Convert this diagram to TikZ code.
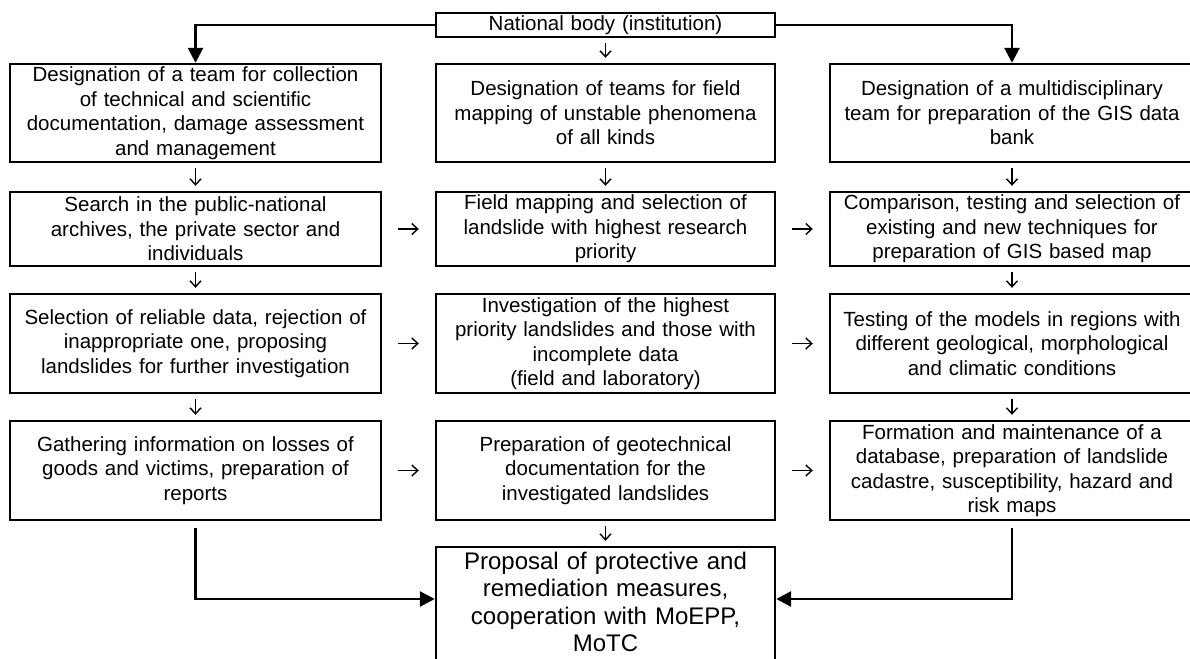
\documentclass[tikz,border=0pt]{standalone}
\usepackage{fontspec}
\setmainfont{Liberation Sans}
\usetikzlibrary{arrows.meta}
\tikzset{ stage/.style = {rectangle, draw, line width=2.4pt, inner sep=0pt, align=center, font=\fontsize{20.5}{24.5}\selectfont} }
\tikzset{ lcol/.style = {minimum width=371pt, text width=361pt} }
\tikzset{ mcol/.style = {minimum width=339pt, text width=329pt} }
\tikzset{ rcol/.style = {minimum width=364pt, text width=354pt} }
\tikzset{ small/.style = {-{Straight Barb[length=6pt,width=11pt]}, line width=1.4pt, shorten >=5pt, shorten <=5pt} }
\tikzset{ big/.style = {-{Triangle[length=15pt,width=15pt]}, line width=2.8pt} }

\begin{document}
\begin{tikzpicture}[x=1pt,y=-1pt]
            \useasboundingbox (0,0) rectangle (1190,658);
            % top
            \node [stage, mcol, minimum height=24pt] (nb) at (605.5,25) {National body (institution)};
            % row 1
            \node [stage, lcol, minimum height=98pt] (L1) at (195.5,113) {Designation of a team for collection\\of technical and scientific\\documentation, damage assessment\\and management};
            \node [stage, mcol, minimum height=98pt] (M1) at (605.5,113) {Designation of teams for field\\mapping of unstable phenomena\\of all kinds};
            \node [stage, rcol, minimum height=98pt] (R1) at (1012,113) {Designation of a multidisciplinary\\team for preparation of the GIS data\\bank};
            % row 2
            \node [stage, lcol, minimum height=74pt] (L2) at (195.5,229) {Search in the public-national\\archives, the private sector and\\individuals};
            \node [stage, mcol, minimum height=74pt] (M2) at (605.5,229) {Field mapping and selection of\\landslide with highest research\\priority};
            \node [stage, rcol, minimum height=74pt] (R2) at (1012,229) {Comparison, testing and selection of\\existing and new techniques for\\preparation of GIS based map};
            % row 3
            \node [stage, lcol, minimum height=99pt] (L3) at (195.5,343.5) {Selection of reliable data, rejection of\\inappropriate one, proposing\\landslides for further investigation};
            \node [stage, mcol, minimum height=99pt] (M3) at (605.5,343.5) {Investigation of the highest\\priority landslides and those with\\incomplete data\\(field and laboratory)};
            \node [stage, rcol, minimum height=99pt] (R3) at (1012,343.5) {Testing of the models in regions with\\different geological, morphological\\and climatic conditions};
            % row 4
            \node [stage, lcol, minimum height=99pt] (L4) at (195.5,470.5) {Gathering information on losses of\\goods and victims, preparation of\\reports};
            \node [stage, mcol, minimum height=99pt] (M4) at (605.5,470.5) {Preparation of geotechnical\\documentation for the\\investigated landslides};
            \node [stage, rcol, minimum height=99pt] (R4) at (1012,470.5) {Formation and maintenance of a\\database, preparation of landslide\\cadastre, susceptibility, hazard and\\risk maps};
            % final
            \node [stage, mcol, minimum height=124pt, text height=3pt, font=\fontsize{24}{27.5}\selectfont] (F) at (605.5,609) {Proposal of protective and\\remediation measures,\\cooperation with MoEPP,\\MoTC};
            \coordinate (jn) at (605.5,599);

            \draw[big] (nb.west) -| (L1.north);
            \draw[big] (nb.east) -| (R1.north);
            \draw[small] (nb) to (M1);
            \draw[small] (L1) to (L2);
            \draw[small] (M1) to (M2);
            \draw[small] (R1) to (R2);
            \draw[small] (L2) to (L3);
            \draw[small] (R2) to (R3);
            \draw[small] (L3) to (L4);
            \draw[small] (R3) to (R4);
            \draw[small] (M4) to (F);
            \draw[small, shorten >=16pt, shorten <=16pt] (L2) to (M2);
            \draw[small, shorten >=16pt, shorten <=16pt] (M2) to (R2);
            \draw[small, shorten >=16pt, shorten <=16pt] (L3) to (M3);
            \draw[small, shorten >=16pt, shorten <=16pt] (M3) to (R3);
            \draw[small, shorten >=16pt, shorten <=16pt] (L4) to (M4);
            \draw[small, shorten >=16pt, shorten <=16pt] (M4) to (R4);
            \draw[big, shorten <=7pt] (L4.south) |- (F.west |- jn);
            \draw[big, shorten <=7pt] (R4.south) |- (F.east |- jn);
\end{tikzpicture}
\end{document}
